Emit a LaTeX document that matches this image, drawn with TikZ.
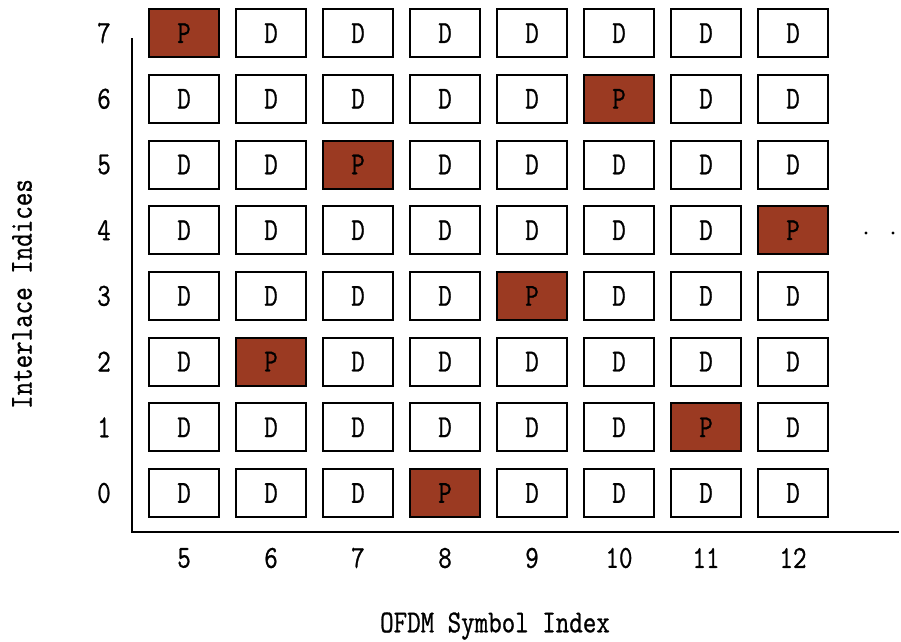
\documentclass[tikz,border=0pt]{standalone}
\usepackage{fontspec}
\newfontfamily\gridfont[FakeStretch=0.82,FakeBold=0.8]{Latin Modern Mono}
\begin{document}
\begin{tikzpicture}[x=1pt,y=-1pt,
  cell/.style={draw=black,line width=2pt,minimum width=70pt,minimum height=48pt,inner sep=0pt,font=\fontsize{32}{34}\gridfont},
  pcell/.style={cell,fill=pfill},
  lbl/.style={inner sep=0pt,font=\fontsize{32}{34}\gridfont},
  axis/.style={line width=2pt}]
\definecolor{pfill}{RGB}{155,58,34}
\useasboundingbox (0,0) rectangle (901,641);
% P positions: row -> column index
\foreach \r/\pc in {0/3,1/6,2/1,3/4,4/7,5/2,6/5,7/0}{
  \foreach \c [evaluate=\c as \xx using 184+87*\c] in {0,...,7}{
    \pgfmathsetmacro{\yy}{493-65.7*\r}
    \ifnum\c=\pc
      \node[pcell] (b-\r-\c) at (\xx,\yy) {P};
    \else
      \node[cell] (b-\r-\c) at (\xx,\yy) {D};
    \fi
  }
  \node[lbl] (r-\r) at (104,{493-65.7*\r}) {\r};
}
\foreach \c in {0,...,7}{
  \pgfmathtruncatemacro{\lab}{\c+5}
  \node[lbl] (c-\c) at ({184+87*\c},558) {\lab};
}
\coordinate (atop) at (132,38);
\coordinate (aorg) at (132,532);
\coordinate (aright) at (899,532);
\draw[axis] (atop) -- (aorg) -- (aright);
\fill (866,233) circle (1.6pt) coordinate (d1);
\fill (893,233) circle (1.6pt) coordinate (d2);
\node[lbl] (xlab) at (495,626) {OFDM Symbol Index};
\node[lbl,rotate=90] (ylab) at (22,294) {Interlace Indices};
\end{tikzpicture}
\end{document}
